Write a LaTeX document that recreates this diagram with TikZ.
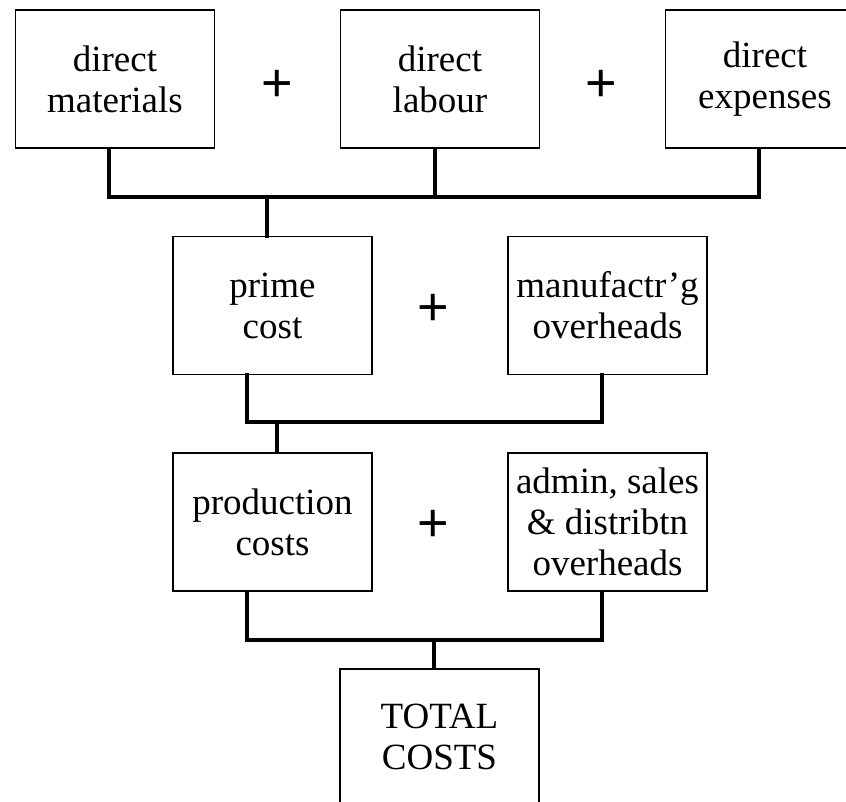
\documentclass[tikz,border=0pt]{standalone}
\usepackage{fontspec}
\setmainfont{Liberation Serif}
\newfontfamily\plusfont{Liberation Sans}
\begin{document}
\begin{tikzpicture}[x=1pt, y=-1pt,
  costbox/.style={draw=black, line width=1.3pt, fill=white,
    minimum width=199pt, minimum height=138pt, inner sep=0pt,
    align=center, font=\fontsize{37}{41}\selectfont},
  conn/.style={line width=4pt, line cap=rect, line join=miter},
  plussign/.style={inner sep=0pt, anchor=center, font=\plusfont\fontsize{54}{54}\selectfont}]
\useasboundingbox (0,0) rectangle (846,802);
\clip (0,0) rectangle (846,802);

% first row: direct costs
\node[costbox] (dm) at (115,79) {direct\\materials};
\node[costbox] (dl) at (440,79) {direct\\labour};
\node[costbox] (de) at (765,79) {direct\\expenses};
\node[plussign] (p1) at (277,86) {+};
\node[plussign] (p2) at (601,86) {+};

% second row
\node[costbox] (pc) at (272.5,305.5) {prime\\cost};
\node[costbox] (mo) at (607.5,305.5) {manufactr'g\\overheads};
\node[plussign] (p3) at (433,310) {+};

% third row
\node[costbox] (prc) at (272.5,522) {production\\costs};
\node[costbox] (ad) at (607.5,522) {admin, sales\\\& distribtn\\overheads};
\node[plussign] (p4) at (433,526) {+};

% result
\node[costbox, minimum height=136pt] (tc) at (439.5,737) {TOTAL\\COSTS};

% junctions on the joining bars
\coordinate (j1) at (267,197);
\coordinate (j2) at (277,422);
\coordinate (j3) at (434,640);

% joining lines, first level
\draw[conn] ([xshift=-6pt]dm.south) |- ([xshift=-6pt]de.south |- j1) -- ([xshift=-6pt]de.south);
\draw[conn] ([xshift=-5pt]dl.south) -- ([xshift=-5pt]dl.south |- j1);
\draw[conn] (j1) -- (j1 |- pc.north);

% second level
\draw[conn] ([xshift=-26pt]pc.south) |- ([xshift=-5.5pt]mo.south |- j2) -- ([xshift=-5.5pt]mo.south);
\draw[conn] (j2) -- (j2 |- prc.north);

% third level
\draw[conn] ([xshift=-26pt]prc.south) |- ([xshift=-5.5pt]ad.south |- j3) -- ([xshift=-5.5pt]ad.south);
\draw[conn] (j3) -- (j3 |- tc.north);
\end{tikzpicture}
\end{document}
